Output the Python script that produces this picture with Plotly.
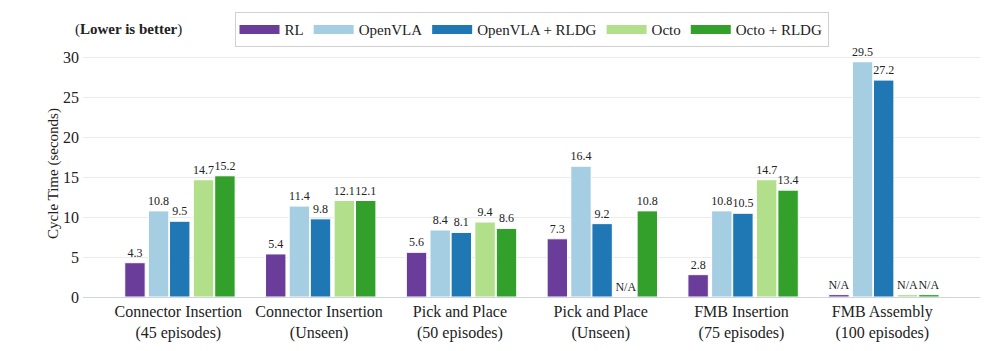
import numpy as np
import plotly.graph_objects as go

categories = [
    "Connector Insertion<br>(45 episodes)",
    "Connector Insertion<br>(Unseen)",
    "Pick and Place<br>(50 episodes)",
    "Pick and Place<br>(Unseen)",
    "FMB Insertion<br>(75 episodes)",
    "FMB Assembly<br>(100 episodes)",
]
series_names = ["RL", "OpenVLA", "OpenVLA + RLDG", "Octo", "Octo + RLDG"]
rl = [4.3, 5.4, 5.6, 7.3, 2.8, None]
openvla = [10.8, 11.4, 8.4, 16.4, 10.8, 29.5]
openvla_rldg = [9.5, 9.8, 8.1, 9.2, 10.5, 27.2]
octo = [14.7, 12.1, 9.4, None, 14.7, None]
octo_rldg = [15.2, 12.1, 8.6, 10.8, 13.4, None]
# stub heights drawn for N/A entries (as in the reference)
na_stub = [0.0, 0.0, 0.0, 0.0, 0.0, 0.3]

colors = ["#6a3d9a", "#a6cee3", "#1f78b4", "#b2df8a", "#33a02c"]
offsets = [-0.308, -0.140, 0.010, 0.179, 0.331]
bar_width = 0.145

FONT = "'Liberation Serif', 'Times New Roman', Times, serif"

fig = go.Figure()
all_series = [rl, openvla, openvla_rldg, octo, octo_rldg]
xs = np.arange(len(categories))
for name, vals, col, off in zip(series_names, all_series, colors, offsets):
    heights = [v if v is not None else s for v, s in zip(vals, na_stub)]
    labels = [f"{v:.1f}" if v is not None else "N/A" for v in vals]
    fig.add_trace(go.Bar(
        name=name,
        x=xs + off,
        y=heights,
        width=bar_width,
        marker=dict(color=col, line=dict(color="white", width=1)),
        text=labels,
        textposition="outside",
        textfont=dict(family=FONT, size=12, color="#222"),
        constraintext="none",
        cliponaxis=False,
        legendgroup=name,
        showlegend=False,
    ))
    # legend swatch (wide, flat rectangle like the reference)
    fig.add_trace(go.Scatter(
        name=name,
        x=[None], y=[None],
        mode="lines",
        line=dict(color=col, width=9),
        legendgroup=name,
        showlegend=True,
        hoverinfo="skip",
    ))

fig.add_annotation(
    text="(<b>Lower is better</b>)",
    xref="paper", yref="paper",
    x=-0.011, y=1.082, xanchor="left", yanchor="middle",
    showarrow=False,
    font=dict(family=FONT, size=15, color="#222"),
)

fig.update_layout(
    width=997, height=351,
    margin=dict(l=83, r=17, t=47, b=54),
    paper_bgcolor="white",
    plot_bgcolor="white",
    font=dict(family=FONT, size=15, color="#222"),
    showlegend=True,
    legend=dict(
        orientation="h",
        x=0.5, xanchor="center",
        y=1.082, yanchor="middle",
        bordercolor="#d0d0d0", borderwidth=1,
        itemwidth=40,
        font=dict(family=FONT, size=15, color="#222"),
        bgcolor="white",
    ),
    xaxis=dict(
        range=[-0.677, 5.694],
        tickmode="array",
        tickvals=list(xs),
        ticktext=categories,
        showgrid=False,
        zeroline=False,
        showline=True,
        linecolor="#cdd6e0",
        linewidth=1,
        ticks="",
        automargin=False,
        tickfont=dict(family=FONT, size=16, color="#222"),
    ),
    yaxis=dict(
        range=[0, 30.975],
        dtick=5,
        showgrid=True,
        gridcolor="#ebebeb",
        gridwidth=1,
        zeroline=False,
        ticks="",
        ticklabelstandoff=3,
        automargin=False,
        tickfont=dict(family=FONT, size=16, color="#222"),
        title=dict(text="Cycle Time (seconds)", font=dict(family=FONT, size=15, color="#222"), standoff=0),
    ),
)

fig.write_html("out.html")
